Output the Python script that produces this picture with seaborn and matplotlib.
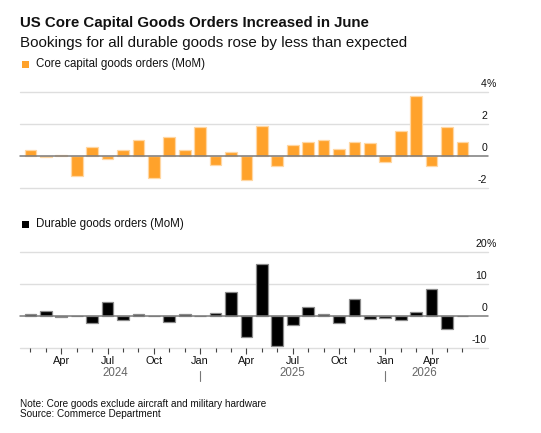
import matplotlib
matplotlib.use("Agg")
import matplotlib.pyplot as plt
import matplotlib.transforms as mtransforms
from matplotlib.patches import Rectangle
import seaborn as sns
import pandas as pd

# ---------------- data ----------------
months = ["2024-02", "2024-03", "2024-04", "2024-05", "2024-06", "2024-07", "2024-08",
          "2024-09", "2024-10", "2024-11", "2024-12", "2025-01", "2025-02", "2025-03",
          "2025-04", "2025-05", "2025-06", "2025-07", "2025-08", "2025-09", "2025-10",
          "2025-11", "2025-12", "2026-01", "2026-02", "2026-03", "2026-04", "2026-05",
          "2026-06"]
core_capital = [0.41, -0.03, 0.08, -1.2, 0.56, -0.14, 0.41, 1.0, -1.38, 1.18, 0.39, 1.84,
                -0.54, 0.29, -1.48, 1.9, -0.58, 0.7, 0.87, 1.01, 0.45, 0.87, 0.82, -0.33,
                1.57, 3.77, -0.62, 1.86, 0.91]
durable = [0.7, 1.8, -0.1, -0.05, -2.0, 4.35, -1.1, 0.8, 0.2, -1.7, 0.7, 0.1, 1.0, 7.6,
           -6.6, 16.5, -9.3, -2.8, 3.0, 0.6, -2.1, 5.4, -0.9, -0.4, -1.1, 1.3, 8.5, -4.0, 0.2]
month_labels = ["Apr", "Jul", "Oct", "Jan", "Apr", "Jul", "Oct", "Jan", "Apr"]
month_label_idx = [2, 5, 8, 11, 14, 17, 20, 23, 26]
year_labels = ["2024", "2025", "2026"]
year_label_pos = [5.5, 17.0, 25.5]
year_sep_idx = [11, 23]
top_ticks = [-2, 0, 2, 4]
bot_ticks = [-10, 0, 10, 20]

title = "US Core Capital Goods Orders Increased in June"
subtitle = "Bookings for all durable goods rose by less than expected"
legend1 = "Core capital goods orders (MoM)"
legend2 = "Durable goods orders (MoM)"
note = "Note: Core goods exclude aircraft and military hardware"
source = "Source: Commerce Department"

ORANGE = "#FFA22B"
ORANGE_EDGE = "#FFD7A3"
BLACK = "#000000"
BLACK_EDGE = "#8a8a8a"
GRID = "#dedede"
ZERO = "#7a7a7a"

sns.set_theme(style="white")
plt.rcParams["font.family"] = ["Liberation Sans", "DejaVu Sans"]

W, H = 541, 433
fig = plt.figure(figsize=(W / 100, H / 100), dpi=100)


def fy(px):
    return 1 - px / H


def fx(px):
    return px / W


ax_left, ax_right = 19.5, 488.0
first_center = 30.4
step = 15.43
xlim = ((ax_left - first_center) / step, (ax_right - first_center) / step)

df = pd.DataFrame({"month": months, "core": core_capital, "durable": durable})


def make_axes(top_px, bottom_px):
    return fig.add_axes([fx(ax_left), fy(bottom_px), fx(ax_right - ax_left),
                         (bottom_px - top_px) / H])


ax1 = make_axes(92.3, 188.3)
ax2 = make_axes(252.3, 348.3)

sns.barplot(data=df, x="month", y="core", order=months, ax=ax1, color=ORANGE,
            saturation=1, width=0.76, errorbar=None, edgecolor=ORANGE_EDGE, linewidth=0.9)
sns.barplot(data=df, x="month", y="durable", order=months, ax=ax2, color=BLACK,
            saturation=1, width=0.76, errorbar=None, edgecolor=BLACK_EDGE, linewidth=0.9)

for ax, ticks, lim in [(ax1, top_ticks, (-2, 4)), (ax2, bot_ticks, (-10, 20))]:
    ax.set_xlim(*xlim)
    ax.set_ylim(*lim)
    for s in ax.spines.values():
        s.set_visible(False)
    ax.set_xlabel("")
    ax.set_ylabel("")
    ax.set_yticks(ticks)
    ax.tick_params(axis="y", length=0, labelleft=False, labelright=False)
    for t in ticks:
        if t == 0:
            ax.axhline(0, color=ZERO, lw=1.1, zorder=3, clip_on=False)
        else:
            ax.axhline(t, color=GRID, lw=1.0, zorder=0, clip_on=False)
    trans = mtransforms.blended_transform_factory(ax.transAxes, ax.transData)
    off = mtransforms.ScaledTranslation(0, 3 / 100, fig.dpi_scale_trans)
    xr = (487 - ax_left) / (ax_right - ax_left)
    for i, t in enumerate(ticks):
        ax.text(xr, t, f"{t}", transform=trans + off,
                ha="right", va="bottom", fontsize=7.6, color="#111111")
        if i == len(ticks) - 1:
            ax.text(xr, t, "%", transform=trans + off,
                    ha="left", va="bottom", fontsize=7.6, color="#111111")
    ax.set_facecolor("none")

ax1.set_xticks([])
ax1.tick_params(axis="x", length=0, labelbottom=False)

minor_idx = [i for i in range(len(months)) if i not in month_label_idx]
ax2.set_xticks(month_label_idx)
ax2.set_xticklabels(month_labels, fontsize=7.9, color="#111111")
ax2.set_xticks(minor_idx, minor=True)
ax2.tick_params(axis="x", which="major", length=4.2, width=0.8, color="#444444",
                pad=1.5, bottom=True)
ax2.tick_params(axis="x", which="minor", length=2.6, width=0.8, color="#444444",
                bottom=True)

btrans = mtransforms.blended_transform_factory(ax2.transData, fig.transFigure)
for lbl, pos in zip(year_labels, year_label_pos):
    ax2.text(pos, fy(376.5), lbl, transform=btrans, ha="center", va="baseline",
             fontsize=8.3, color="#666666")
for idx in year_sep_idx:
    ax2.plot([idx, idx], [fy(370.5), fy(380.5)], transform=btrans, color="#777777",
             lw=0.8, clip_on=False)

# titles
fig.text(fx(20.5), fy(26.7), title, fontsize=10.8, fontweight="bold", va="baseline",
         color="#111111")
fig.text(fx(20.5), fy(46.7), subtitle, fontsize=10.9, va="baseline", color="#111111")

# legends
fig.add_artist(Rectangle((fx(21.5), fy(67.5)), fx(7), 7 / H, transform=fig.transFigure,
                         color=ORANGE, lw=0))
fig.text(fx(35.5), fy(67.0), legend1, fontsize=8.3, va="baseline", color="#111111")
fig.add_artist(Rectangle((fx(21.5), fy(227.5)), fx(7), 7 / H, transform=fig.transFigure,
                         color=BLACK, lw=0))
fig.text(fx(35.5), fy(227.0), legend2, fontsize=8.3, va="baseline", color="#111111")

# notes
fig.text(fx(20.5), fy(406.7), note, fontsize=7.2, va="baseline", color="#111111")
fig.text(fx(20.5), fy(417.3), source, fontsize=7.2, va="baseline", color="#111111")

fig.savefig("out.png", dpi=100, facecolor="white")
